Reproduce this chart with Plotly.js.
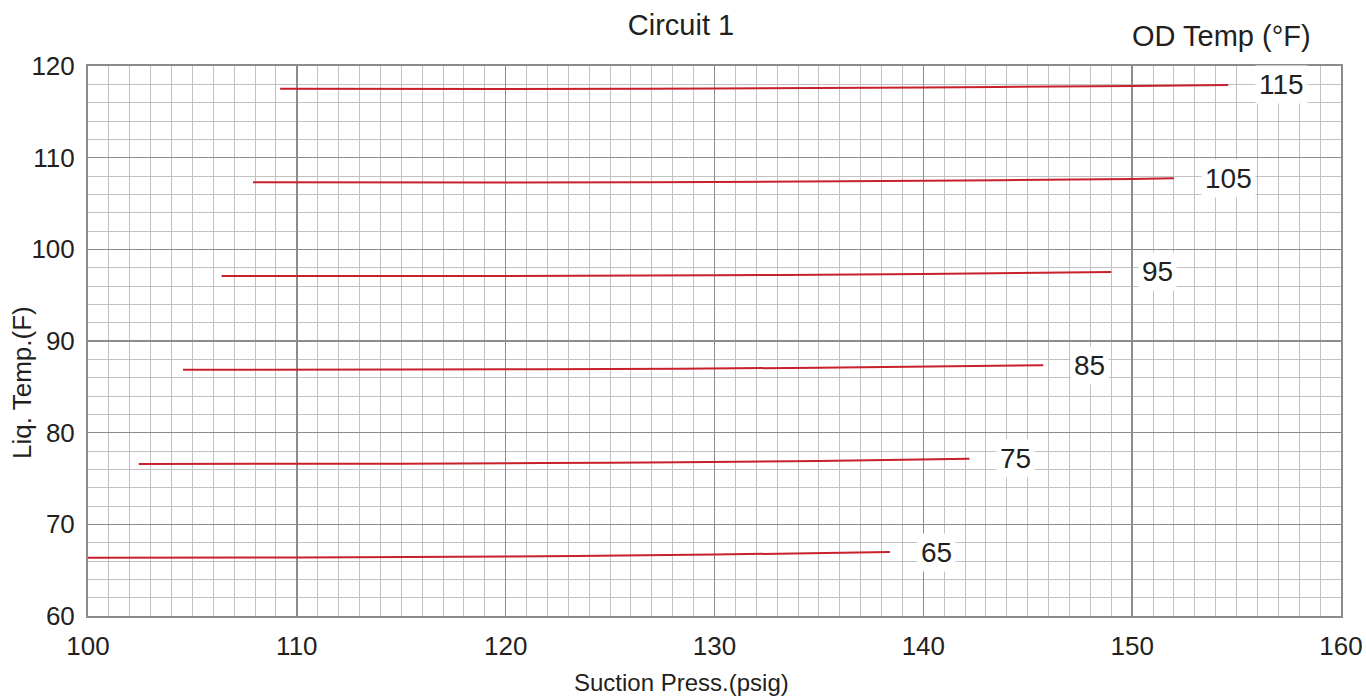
<!DOCTYPE html>
<html>
<head>
<meta charset="utf-8">
<script src="https://cdn.plot.ly/plotly-3.0.1.min.js"></script>
<style>html,body{margin:0;padding:0;background:#fff;}#chart{width:1366px;height:698px;}</style>
</head>
<body>
<div id="chart"></div>
<script>
var odTemps = ["65", "75", "85", "95", "105", "115"];
var press65 = [100, 110, 120, 130, 138.4];
var liq65 = [66.36, 66.38, 66.5, 66.7, 66.98];
var press75 = [102.43, 115, 125, 135, 142.21];
var liq75 = [76.58, 76.62, 76.72, 76.9, 77.16];
var press85 = [104.55, 115, 125, 135, 145.74];
var liq85 = [86.87, 86.88, 86.95, 87.08, 87.35];
var press95 = [106.4, 120, 130, 140, 149.0];
var liq95 = [97.09, 97.1, 97.17, 97.3, 97.53];
var press105 = [107.9, 120, 130, 140, 150, 152.0];
var liq105 = [107.31, 107.28, 107.35, 107.48, 107.68, 107.75];
var press115 = [109.2, 120, 130, 140, 150, 154.6];
var liq115 = [117.52, 117.5, 117.55, 117.65, 117.83, 117.93];

var xSets = [press65, press75, press85, press95, press105, press115];
var ySets = [liq65, liq75, liq85, liq95, liq105, liq115];

var font = "'Liberation Sans', Arial, sans-serif";
var ink = '#231f20';

// plot box in pixels (for paper-coordinate conversion of free text)
var L = 88, R = 1341, T = 66, B = 616;
function px(xp) { return (xp - L) / (R - L); }
function py(yp) { return (B - yp) / (B - T); }

var traces = [];
var annotations = [];
for (var i = 0; i < odTemps.length; i++) {
  traces.push({
    x: xSets[i], y: ySets[i], type: 'scatter', mode: 'lines',
    line: {color: '#c8202c', width: 2, shape: 'spline'},
    name: odTemps[i], hoverinfo: 'x+y'
  });
  var n = xSets[i].length - 1;
  annotations.push({
    x: xSets[i][n], y: ySets[i][n], xref: 'x', yref: 'y',
    text: odTemps[i], showarrow: false, xanchor: 'left', yanchor: 'middle',
    xshift: 27, bgcolor: '#ffffff', borderpad: 3,
    font: {family: font, size: 28, color: ink}
  });
}
annotations.push({
  x: px(1221), y: py(36), xref: 'paper', yref: 'paper', text: 'OD Temp (°F)', showarrow: false,
  font: {family: font, size: 29, color: ink}, xanchor: 'center', yanchor: 'middle'
});
annotations.push({
  x: px(681), y: py(682), xref: 'paper', yref: 'paper', text: 'Suction Press.(psig)', showarrow: false,
  font: {family: font, size: 24, color: ink}, xanchor: 'center', yanchor: 'middle'
});
annotations.push({
  x: px(22), y: py(383), xref: 'paper', yref: 'paper', text: 'Liq. Temp.(F)', showarrow: false,
  textangle: -90, font: {family: font, size: 26, color: ink}, xanchor: 'center', yanchor: 'middle'
});

var layout = {
  width: 1366, height: 698,
  margin: {l: L, r: 1366 - R, t: T, b: 698 - B},
  paper_bgcolor: '#ffffff', plot_bgcolor: '#ffffff',
  showlegend: false,
  title: {text: 'Circuit 1', x: 681 / 1366, xanchor: 'center', y: 1 - 25 / 698, yanchor: 'middle',
          font: {family: font, size: 29, color: ink}},
  xaxis: {
    range: [100, 160], dtick: 10, tick0: 100, showgrid: true, gridcolor: '#8c8c8c', gridwidth: 1.5,
    minor: {dtick: 1, showgrid: true, gridcolor: '#c2c2c2', gridwidth: 1},
    showline: true, mirror: true, linecolor: '#8c8c8c', linewidth: 2, zeroline: false,
    ticks: '', ticklabelstandoff: 6,
    tickfont: {family: font, size: 26, color: ink}
  },
  yaxis: {
    range: [60, 120], dtick: 10, tick0: 60, showgrid: true, gridcolor: '#8c8c8c', gridwidth: 1.5,
    minor: {dtick: 2, showgrid: true, gridcolor: '#c2c2c2', gridwidth: 1},
    showline: true, mirror: true, linecolor: '#8c8c8c', linewidth: 2, zeroline: false,
    ticks: '', ticklabelstandoff: 6,
    tickfont: {family: font, size: 26, color: ink}
  },
  annotations: annotations
};

Plotly.newPlot('chart', traces, layout, {displayModeBar: false, staticPlot: true});
</script>
</body>
</html>
